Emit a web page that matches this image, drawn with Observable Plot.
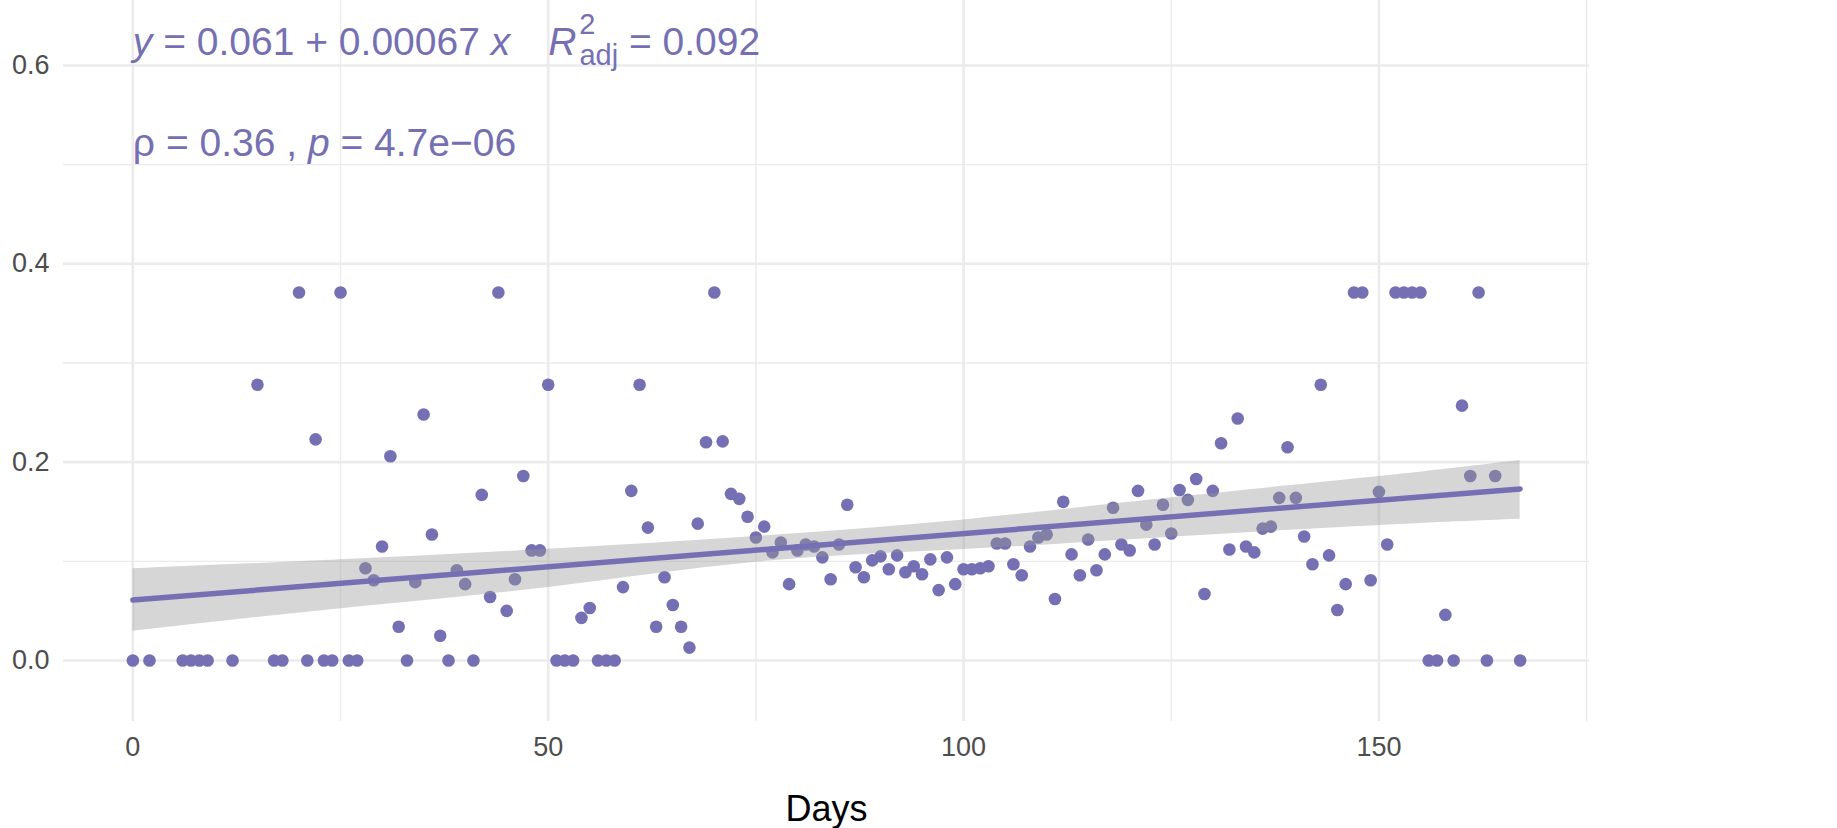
<!DOCTYPE html>
<html>
<head>
<meta charset="utf-8">
<script src="https://cdn.jsdelivr.net/npm/d3@7"></script>
<script src="https://cdn.jsdelivr.net/npm/@observablehq/plot@0.6"></script>
<style>
  html, body { margin: 0; padding: 0; background: #ffffff; }
  #chart svg { display: block; }
</style>
</head>
<body>
<div id="chart"></div>
<script>
// ---- data ----
const days = [0,2,6,7,8,9,12,15,17,18,20,21,22,23,24,25,26,27,28,29,30,31,32,33,34,35,36,37,38,39,40,41,42,43,44,45,46,47,48,49,50,51,52,53,54,55,56,57,58,59,60,61,62,63,64,65,66,67,68,69,70,71,72,73,74,75,76,77,78,79,80,81,82,83,84,85,86,87,88,89,90,91,92,93,94,95,96,97,98,99,100,101,102,103,104,105,106,107,108,109,110,111,112,113,114,115,116,117,118,119,120,121,122,123,124,125,126,127,128,129,130,131,132,133,134,135,136,137,138,139,140,141,142,143,144,145,146,147,148,149,150,151,152,153,154,155,156,157,158,159,160,161,162,163,164,167];
const values = [0,0,0,0,0,0,0,0.278,0,0,0.371,0,0.223,0,0,0.371,0,0,0.093,0.081,0.115,0.206,0.034,0,0.079,0.248,0.127,0.025,0,0.091,0.077,0,0.167,0.064,0.371,0.050,0.082,0.186,0.111,0.111,0.278,0,0,0,0.043,0.053,0,0,0,0.074,0.171,0.278,0.134,0.034,0.084,0.056,0.034,0.013,0.138,0.220,0.371,0.221,0.168,0.163,0.145,0.124,0.135,0.109,0.119,0.077,0.111,0.117,0.115,0.104,0.082,0.117,0.157,0.094,0.084,0.101,0.105,0.092,0.106,0.089,0.095,0.087,0.102,0.071,0.104,0.077,0.092,0.092,0.093,0.095,0.118,0.118,0.097,0.086,0.115,0.124,0.127,0.062,0.160,0.107,0.086,0.122,0.091,0.107,0.154,0.117,0.111,0.171,0.137,0.117,0.157,0.128,0.172,0.162,0.183,0.067,0.171,0.219,0.112,0.244,0.115,0.109,0.133,0.135,0.164,0.215,0.164,0.125,0.097,0.278,0.106,0.051,0.077,0.371,0.371,0.081,0.170,0.117,0.371,0.371,0.371,0.371,0,0,0.046,0,0.257,0.186,0.371,0,0.186,0];

// fitted line (read endpoints) and confidence band (read at several x)
const fitX = [0, 167];
const fitY = [0.061, 0.173];
const bandX = [0, 25, 50, 75, 100, 125, 150, 167];
const bandLow = [0.0295, 0.0521, 0.0736, 0.0991, 0.1119, 0.1243, 0.1362, 0.1425];
const bandHigh = [0.0925, 0.1015, 0.1122, 0.1250, 0.1418, 0.1640, 0.1855, 0.2017];

// ticks
const xMajor = [0, 50, 100, 150];
const xMinor = [25, 75, 125, 175];
const yMajor = [0, 0.2, 0.4, 0.6];
const yMinor = [0.1, 0.3, 0.5];
const xTitle = "Days";

// annotation text
const eqPlain = "y = 0.061 + 0.00067 x   R2adj = 0.092";
const corPlain = "ρ = 0.36 , p = 4.7e−06";
const eqAt = {x: 0, y: 0.611};
const corAt = {x: 0, y: 0.509};
const eqParts = [
  {t: "y", italic: true},
  {t: " = 0.061 + 0.00067 "},
  {t: "x", italic: true},
  {t: "R", italic: true, dx: 38},
  {t: "2", size: 29, dx: 3, dy: -21},
  {t: "adj", size: 29, dx: -16.1, dy: 31},
  {t: " = 0.092", dy: -10}
];
const corParts = [
  {t: "ρ"},
  {t: " = 0.36 , "},
  {t: "p", italic: true},
  {t: " = 4.7e−06"}
];

// ---- build tables ----
const points = days.map((d, i) => ({day: d, value: values[i]}));
const fit = fitX.map((d, i) => ({day: d, value: fitY[i]}));
const band = bandX.map((d, i) => ({day: d, lo: bandLow[i], hi: bandHigh[i]}));

const purple = "#7570B3";
const gridColor = "#EBEBEB";
const font = "'Liberation Sans', Arial, Helvetica, sans-serif";

const plot = Plot.plot({
  width: 1837,
  height: 828,
  marginLeft: 63,
  marginRight: 248,
  marginTop: 0,
  marginBottom: 107,
  style: {fontFamily: font, background: "#ffffff", overflow: "visible"},
  x: {domain: [-8.35, 175.35]},
  y: {domain: [-0.0615, 0.6655]},
  marks: [
    Plot.gridX(xMinor, {stroke: gridColor, strokeOpacity: 1, strokeWidth: 1.4}),
    Plot.gridY(yMinor, {stroke: gridColor, strokeOpacity: 1, strokeWidth: 1.4}),
    Plot.gridX(xMajor, {stroke: gridColor, strokeOpacity: 1, strokeWidth: 2.6}),
    Plot.gridY(yMajor, {stroke: gridColor, strokeOpacity: 1, strokeWidth: 2.6}),
    Plot.dot(points, {x: "day", y: "value", r: 6.3, fill: purple, stroke: null}),
    Plot.areaY(band, {x: "day", y1: "lo", y2: "hi", fill: "#999999", fillOpacity: 0.4, curve: "natural"}),
    Plot.line(fit, {x: "day", y: "value", stroke: purple, strokeWidth: 5.5}),
    Plot.text([eqAt], {x: "x", y: "y", text: () => eqPlain, textAnchor: "start", lineAnchor: "bottom", fontSize: 39, fill: purple}),
    Plot.text([corAt], {x: "x", y: "y", text: () => corPlain, textAnchor: "start", lineAnchor: "bottom", fontSize: 39, fill: purple}),
    Plot.axisX(xMajor, {tickSize: 0, tickPadding: 15, fontSize: 27, fill: "#4D4D4D", label: null}),
    Plot.axisY(yMajor, {tickSize: 0, tickPadding: 14, fontSize: 27, fill: "#4D4D4D", label: null, tickFormat: d3.format(".1f")}),
    Plot.text([xTitle], {frameAnchor: "bottom", lineAnchor: "bottom", dy: 99, fontSize: 36, fill: "#000000"})
  ]
});

document.getElementById("chart").appendChild(plot);

// rich text (italic, superscript/subscript) for the annotation labels
function rich(el, parts) {
  const t = d3.select(el);
  t.text(null).style("white-space", "pre");
  for (const p of parts) {
    const s = t.append("tspan").text(p.t);
    if (p.italic) s.attr("font-style", "italic");
    if (p.size) s.attr("font-size", p.size);
    if (p.dx) s.attr("dx", p.dx);
    if (p.dy) s.attr("dy", p.dy);
  }
}
plot.querySelectorAll("text").forEach((el) => {
  if (el.textContent === eqPlain) rich(el, eqParts);
  else if (el.textContent === corPlain) rich(el, corParts);
});
</script>
</body>
</html>
